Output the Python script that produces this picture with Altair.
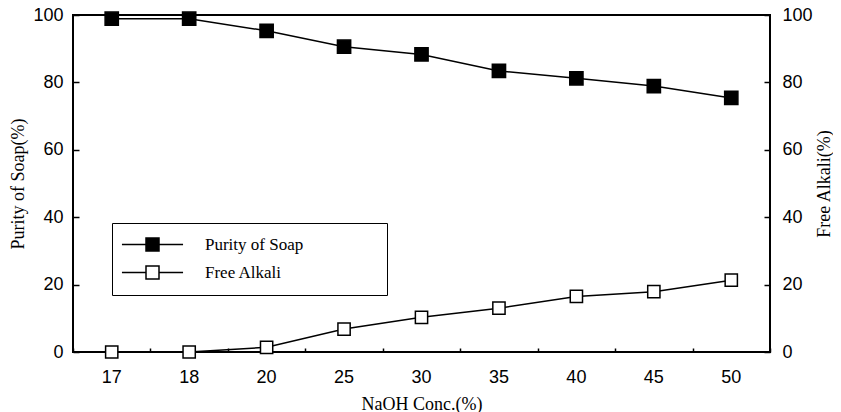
import altair as alt
import pandas as pd

conc = ["17", "18", "20", "25", "30", "35", "40", "45", "50"]
purity = [98.9, 98.9, 95.3, 90.6, 88.3, 83.4, 81.2, 78.9, 75.4]
alkali = [0.0, 0.0, 1.4, 6.8, 10.3, 13.0, 16.5, 17.9, 21.3]
series = ["Purity of Soap", "Free Alkali"]
y_ticks = [0, 20, 40, 60, 80, 100]

df = pd.DataFrame({
    "conc": conc * 2,
    "value": purity + alkali,
    "series": [series[0]] * len(conc) + [series[1]] * len(conc),
})

SANS = "Liberation Sans"
SERIF = "Liberation Serif"

xscale = alt.Scale(type="band", paddingInner=0, paddingOuter=0)

x_main = alt.X(
    "conc:O", sort=conc, scale=xscale,
    axis=alt.Axis(orient="bottom", title="NaOH Conc.(%)", ticks=False, domain=False,
                  labelAngle=0, labelPadding=16, titlePadding=9,
                  labelFont=SANS, labelFontSize=18, labelColor="black",
                  titleFont=SERIF, titleFontSize=18, titleFontWeight="normal",
                  titleColor="black"),
)
x_ticks = alt.X(
    "conc:O", sort=conc, scale=xscale,
    axis=alt.Axis(orient="bottom", title=None, labels=False, domain=False,
                  ticks=True, tickSize=4, offset=-4, tickBand="extent",
                  tickColor="black", tickWidth=1.5),
)

yscale = alt.Scale(domain=[0, 100], nice=False, zero=True)

y_left = alt.Y(
    "value:Q", scale=yscale,
    axis=alt.Axis(orient="left", title="Purity of Soap(%)", values=y_ticks,
                  domain=False, grid=False, tickSize=6, offset=-6, labelPadding=10,
                  tickColor="black", tickWidth=1.5,
                  labelFont=SANS, labelFontSize=18, labelColor="black",
                  titleFont=SERIF, titleFontSize=18, titleFontWeight="normal",
                  titleColor="black", titlePadding=5),
)
y_right = alt.Y(
    "value:Q", scale=yscale,
    axis=alt.Axis(orient="right", title="Free Alkali(%)", values=y_ticks,
                  domain=False, grid=False, tickSize=6, offset=-6, labelPadding=12,
                  tickColor="black", tickWidth=1.5, titleAngle=270,
                  labelFont=SANS, labelFontSize=18, labelColor="black",
                  titleFont=SERIF, titleFontSize=18, titleFontWeight="normal",
                  titleColor="black", titlePadding=21),
)

# legend symbol: a line through a square; trailing zero-length segment widens the box
legend_path = "M-4.7,0L-1,0M1,0L4.7,0M-1,-1L1,-1L1,1L-1,1ZM33.5,0L33.5,0"
fill_enc = alt.Fill(
    "series:N",
    scale=alt.Scale(domain=series, range=["black", "white"]),
    legend=alt.Legend(
        orient="none", legendX=39, legendY=208, title=None,
        strokeColor="black", fillColor="white", padding=13,
        symbolType=legend_path, symbolSize=169, symbolOffset=19,
        symbolStrokeColor="black", symbolStrokeWidth=1.5,
        labelOffset=44, rowPadding=9, labelLimit=400,
        labelFont=SERIF, labelFontSize=17, labelColor="black",
    ),
)

base_a = alt.Chart(df).transform_filter(alt.datum.series == series[0])
base_b = alt.Chart(df).transform_filter(alt.datum.series == series[1])

line_a = base_a.mark_line(color="black", strokeWidth=1.5).encode(x=x_main, y=y_left)
pts_a = base_a.mark_point(shape="square", filled=True, size=175, stroke="black",
                          strokeWidth=1.5, opacity=1).encode(x=x_main, y=y_left, fill=fill_enc)

line_b = base_b.mark_line(color="black", strokeWidth=1.5).encode(x=x_ticks, y=y_right)
pts_b = base_b.mark_point(shape="square", filled=True, size=150, stroke="black",
                          strokeWidth=1.5, opacity=1).encode(x=x_ticks, y=y_right, fill=fill_enc)

layer_a = alt.layer(line_a, pts_a)
layer_b = alt.layer(line_b, pts_b)

chart = (
    alt.layer(layer_a, layer_b)
    .resolve_scale(y="independent")
    .resolve_axis(x="independent")
    .properties(
        width=697, height=337,
        autosize=alt.AutoSizeParams(type="none"),
        padding={"left": 65, "top": 7, "right": 63, "bottom": 60},
        background="white",
    )
    .configure_view(stroke="black", strokeWidth=2)
)

chart.save("out.html", embed_options={"renderer": "svg", "actions": False})
